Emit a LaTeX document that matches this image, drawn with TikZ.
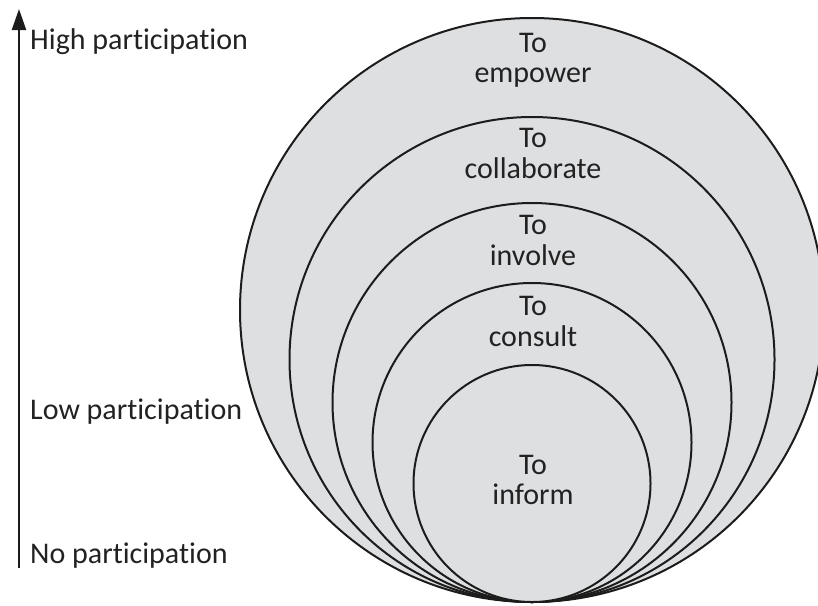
\documentclass[tikz,border=0pt]{standalone}
\usepackage{fontspec}
\setmainfont{Carlito}[RawFeature={-liga;-clig;-calt;-dlig}]
\usetikzlibrary{arrows.meta}
\definecolor{ringfill}{HTML}{DEDFE1}
\definecolor{ringline}{HTML}{1C1C1C}
\definecolor{labeltext}{HTML}{222222}
\tikzset{
  ring/.style={fill=ringfill, draw=ringline, line width=2pt},
  ringlabel/.style={anchor=base, inner sep=0pt, text=labeltext,
    font=\fontsize{30}{30}\selectfont},
  levellabel/.style={anchor=base west, inner sep=0pt, text=labeltext,
    font=\fontsize{30}{30}\selectfont},
  axis/.style={draw=ringline, line width=2.2pt,
    -{Triangle[length=21pt, width=14pt]}}
}
\begin{document}
\begin{tikzpicture}[x=1pt, y=-1pt]
\useasboundingbox (0,0) rectangle (818,605);
\clip (0,0) rectangle (818,605);

% nested circles, all touching at the bottom point (532,602)
\filldraw[ring] (532,310)   circle[radius=292pt];
\filldraw[ring] (532,359.5) circle[radius=242.5pt];
\filldraw[ring] (532,402.5) circle[radius=199.5pt];
\filldraw[ring] (532,442.5) circle[radius=159.5pt];
\filldraw[ring] (532,483.5) circle[radius=118.5pt];

% circle captions
\node[ringlabel] (empA) at (533,52)    {To};
\node[ringlabel] (empB) at (533,82)    {empower};
\node[ringlabel] (colA) at (533,147.7) {To};
\node[ringlabel] (colB) at (533,178.3) {collaborate};
\node[ringlabel] (invA) at (533,234)   {To};
\node[ringlabel] (invB) at (533,265)   {involve};
\node[ringlabel] (conA) at (533,315)   {To};
\node[ringlabel] (conB) at (533,346)   {consult};
\node[ringlabel] (infA) at (533,474.3) {To};
\node[ringlabel] (infB) at (533,504.3) {inform};

% participation axis
\coordinate (axisbottom) at (19,568);
\coordinate (axistop) at (19,9);
\draw[axis] (axisbottom) -- (axistop);

\node[levellabel] (high) at (30,49)  {High participation};
\node[levellabel] (low)  at (30,419) {Low participation};
\node[levellabel] (none) at (30,563) {No participation};
\end{tikzpicture}
\end{document}
